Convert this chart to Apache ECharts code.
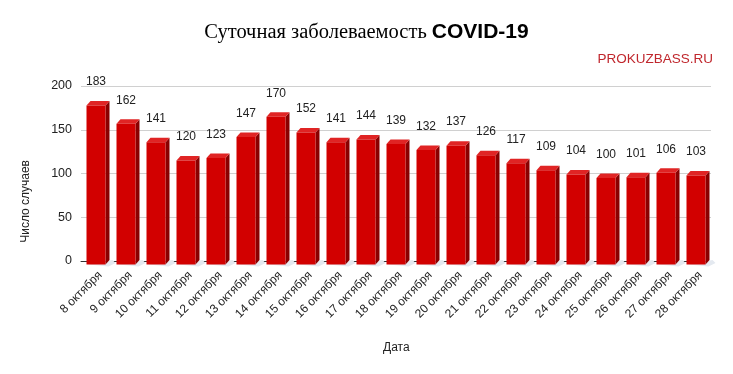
<!DOCTYPE html>
<html><head><meta charset="utf-8">
<script src="https://cdn.jsdelivr.net/npm/echarts@6/dist/echarts.min.js"></script>
<style>html,body{margin:0;padding:0;background:#fff}#c{width:733px;height:374px}</style>
</head><body><div id="c"></div>
<script>
const categories = ['8 октября','9 октября','10 октября','11 октября','12 октября','13 октября','14 октября','15 октября','16 октября','17 октября','18 октября','19 октября','20 октября','21 октября','22 октября','23 октября','24 октября','25 октября','26 октября','27 октября','28 октября'];
const cases = [183,162,141,120,123,147,170,152,141,144,139,132,137,126,117,109,104,100,101,106,103];
const yTicks = [0,50,100,150,200];

const chart = echarts.init(document.getElementById('c'));
const FONT = 'Liberation Sans, Arial, sans-serif';
chart.setOption({
  animation:false,
  title:[{
    text:'{a|Суточная заболеваемость }{b|COVID-19}',
    left:'center', top:17,
    textStyle:{fontWeight:'normal',rich:{
      a:{fontFamily:'Liberation Serif, Times New Roman, serif',fontWeight:'normal',fontSize:20.5,color:'#000'},
      b:{fontFamily:FONT,fontWeight:'bold',fontSize:21,color:'#000'}
    }}
  },{
    text:'PROKUZBASS.RU', right:15, top:47,
    textStyle:{fontFamily:FONT,fontSize:13.5,fontWeight:'normal',color:'#c0272d'}
  }],
  grid:{left:81,right:22,top:86,bottom:113},
  xAxis:{type:'category',data:categories,
    axisTick:{show:false},
    axisLine:{lineStyle:{color:'#333',width:1}},
    axisLabel:{rotate:45,margin:8,verticalAlign:'top',fontFamily:FONT,fontSize:12,color:'#222',interval:0}
  },
  yAxis:{type:'value',min:yTicks[0],max:yTicks[yTicks.length-1],interval:50,
    axisLine:{show:false},axisTick:{show:false},
    splitLine:{lineStyle:{color:'#d0d0d0'}},
    axisLabel:{margin:9,fontFamily:FONT,fontSize:12.5,color:'#222'}
  },
  graphic:[
    {type:'text',left:20,top:160,rotation:Math.PI/2,style:{text:'Число случаев',fontFamily:FONT,fontSize:12,fill:'#222'}},
    {type:'text',left:383,top:342,style:{text:'Дата',fontFamily:FONT,fontSize:12,fill:'#222'}}
  ],
  series:[{
    type:'custom',
    data:cases.map((v,i)=>[i,v]),
    renderItem:function(params,api){
      const top = api.coord([api.value(0), api.value(1)]);
      const base = api.coord([api.value(0), 0]);
      const cx = top[0];
      const w = 19, d = 4, dy = 4.5;
      const x0 = cx - w/2, x1 = cx + w/2;
      const yt = top[1] + dy, yb = base[1] + dy - 1;
      return {type:'group',children:[
        {type:'polygon',shape:{points:[[x0+2,yb],[x1+d+3,yb-dy],[x1+d+6,yb-dy+3],[x1+3,yb+2]]},style:{fill:'#e4e9f0'}},
        {type:'polygon',shape:{points:[[x1,yt],[x1+d,yt-dy],[x1+d,yb-dy],[x1,yb]]},style:{fill:'#8a0000'}},
        {type:'polygon',shape:{points:[[x0,yt],[x0+d,yt-dy],[x1+d,yt-dy],[x1,yt]]},style:{fill:'#e02424'}},
        {type:'rect',shape:{x:x0,y:yt,width:w,height:yb-yt},style:{fill:'#d20000'}},
        {type:'text',style:{text:String(api.value(1)),x:cx,y:top[1]-13,align:'center',verticalAlign:'bottom',fontFamily:FONT,fontSize:12,fill:'#222'}}
      ]};
    }
  }]
});
</script></body></html>
